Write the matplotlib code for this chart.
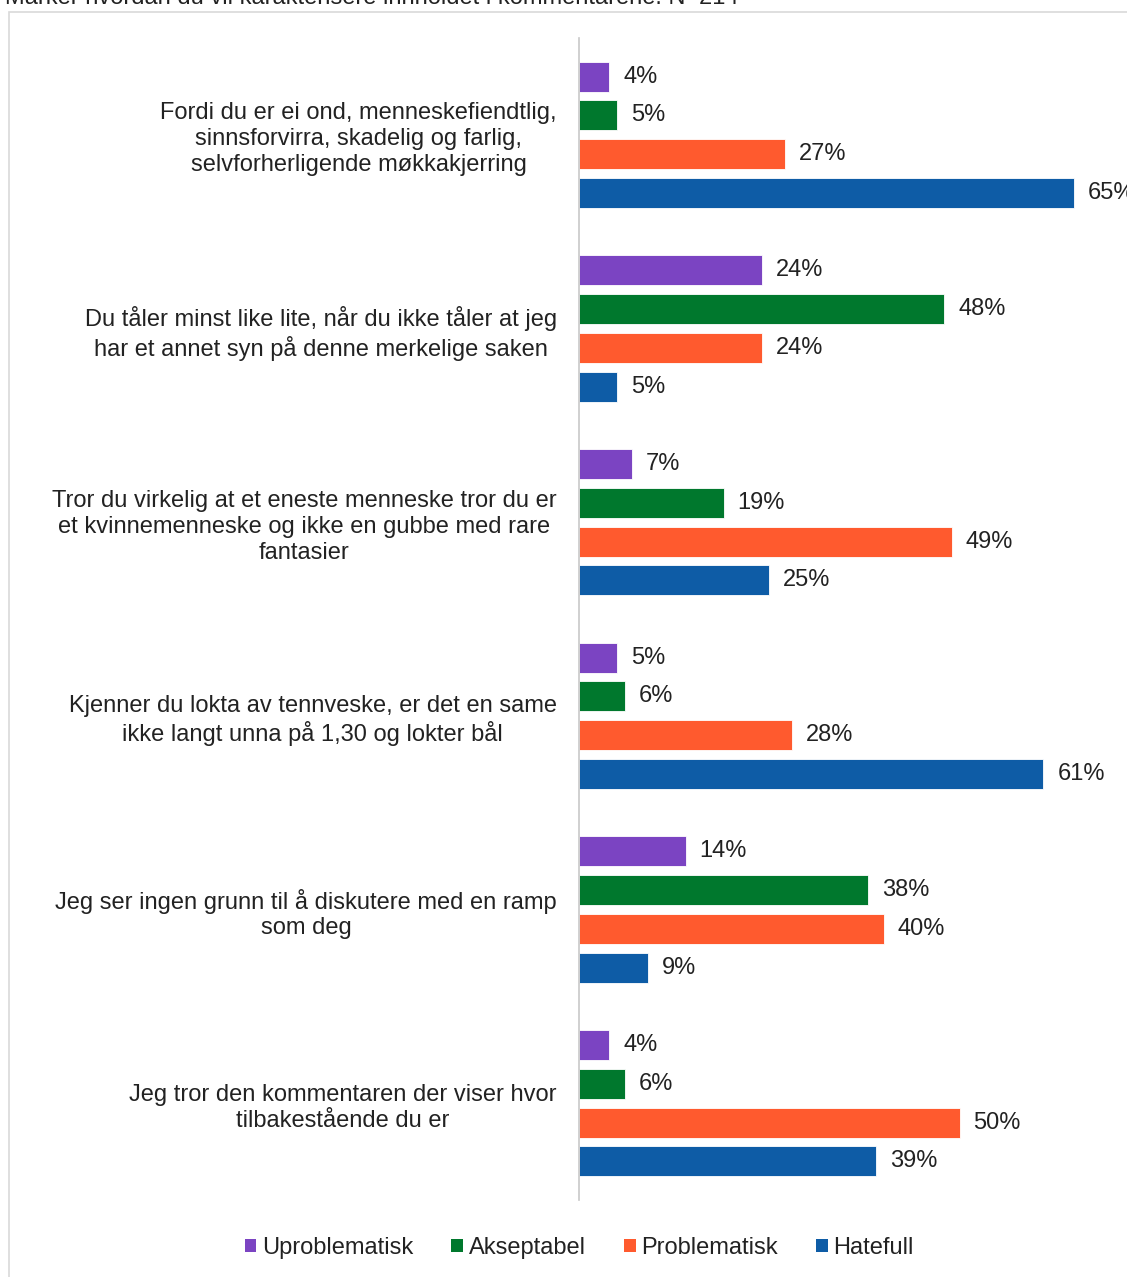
import matplotlib
matplotlib.use("Agg")
import matplotlib.pyplot as plt
from matplotlib.patches import Patch, Rectangle
import numpy as np

plt.rcParams['font.family'] = ['Liberation Sans', 'DejaVu Sans']

categories = [
    "Fordi du er ei ond, menneskefiendtlig,\nsinnsforvirra, skadelig og farlig,\nselvforherligende møkkakjerring",
    "Du tåler minst like lite, når du ikke tåler at jeg\nhar et annet syn på denne merkelige saken",
    "Tror du virkelig at et eneste menneske tror du er\net kvinnemenneske og ikke en gubbe med rare\nfantasier",
    "Kjenner du lokta av tennveske, er det en same\nikke langt unna på 1,30 og lokter bål",
    "Jeg ser ingen grunn til å diskutere med en ramp\nsom deg",
    "Jeg tror den kommentaren der viser hvor\ntilbakestående du er",
]
series_names = ["Uproblematisk", "Akseptabel", "Problematisk", "Hatefull"]
uproblematisk = [4, 24, 7, 5, 14, 4]
akseptabel = [5, 48, 19, 6, 38, 6]
problematisk = [27, 24, 49, 28, 40, 50]
hatefull = [65, 5, 25, 61, 9, 39]
series_values = [uproblematisk, akseptabel, problematisk, hatefull]
colors = ["#7B44C2", "#00782D", "#FF5A2E", "#0E5CA6"]

FS = 17
W, H = 1127, 1277
fig = plt.figure(figsize=(W / 100, H / 100), dpi=100)

# outer frame (light gray)
fig.patches.append(Rectangle((9 / W, -0.1), 1.2, 1 - 12 / H + 0.1, transform=fig.transFigure,
                             fill=False, edgecolor="#D9D9D9", linewidth=1.2))
# cut-off title at top
fig.text(5 / W, 1 - 4 / H, "Marker hvordan du vil karakterisere innholdet i kommentarene. N=214",
         ha="left", va="baseline", fontsize=FS, color="#222222")

left, right = 579 / W, 1112 / W
top, bottom = 1 - 38 / H, 1 - 1200 / H
ax = fig.add_axes([left, bottom, right - left, top - bottom])

n = len(categories)
y = np.arange(n)
bar_h = 0.155
step = 0.2
for i, (name, vals, col) in enumerate(zip(series_names, series_values, colors)):
    pos = y + (i - 1.5) * step
    ax.barh(pos, vals, height=bar_h, color=col, edgecolor="white", linewidth=0.6, label=name)
    for p, v in zip(pos, vals):
        ax.annotate(f"{v}%", (v, p), xytext=(10, 0), textcoords="offset points",
                    va="center", ha="left", fontsize=FS, color="#222222",
                    annotation_clip=False)

ax.set_xlim(0, 70)
ax.set_ylim(n - 0.5, -0.5)
ax.set_yticks(y)
ax.set_yticklabels(categories, fontsize=FS, color="#222222", multialignment="center",
                   linespacing=1.23)
ax.tick_params(axis="y", length=0, pad=16)
ax.set_xticks([])
for s in ["top", "right", "bottom"]:
    ax.spines[s].set_visible(False)
ax.spines["left"].set_color("#C8C8C8")
ax.spines["left"].set_linewidth(1.2)
ax.set_facecolor("none")

handles = [Patch(facecolor=c, edgecolor="none") for c in colors]
fig.legend(handles, series_names, loc="center", bbox_to_anchor=(0.514, 1 - 1248 / H),
           ncol=4, frameon=False, fontsize=FS, handlelength=0.5, handleheight=0.5,
           handletextpad=0.25, columnspacing=1.6, labelcolor="#222222")

fig.savefig("out.png", dpi=100)
